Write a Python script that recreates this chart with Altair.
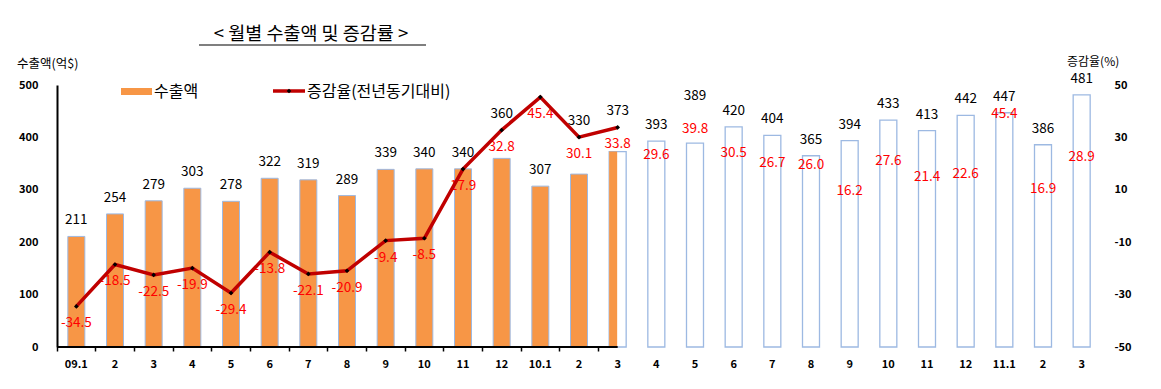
import altair as alt
import pandas as pd

# ---- data ----
months = ["09.1", "2", "3", "4", "5", "6", "7", "8", "9", "10", "11", "12",
          "10.1", "2", "3", "4", "5", "6", "7", "8", "9", "10", "11", "12",
          "11.1", "2", "3"]
exports = [211, 254, 279, 303, 278, 322, 319, 289, 339, 340, 340, 360,
           307, 330, 373, 393, 389, 420, 404, 365, 394, 433, 413, 442,
           447, 386, 481]
growth = [-34.5, -18.5, -22.5, -19.9, -29.4, -13.8, -22.1, -20.9, -9.4, -8.5, 17.9, 32.8,
          45.4, 30.1, 33.8, 29.6, 39.8, 30.5, 26.7, 26.0, 16.2, 27.6, 21.4, 22.6,
          45.4, 16.9, 28.9]
left_ticks = [0, 100, 200, 300, 400, 500]
right_ticks = [-50, -30, -10, 10, 30, 50]
n_filled = 14      # solid orange bars (09.1 .. 10.2)
n_line = 15        # line drawn through 10.3

title_text = "<  월별  수출액  및  증감률  >"
left_title = "수출액(억$)"
right_title = "증감율(%)"
legend_bar = "수출액"
legend_line = "증감율(전년동기대비)"

keys = [f"{i:02d}" for i in range(len(months))]
df = pd.DataFrame({
    "key": keys,
    "idx": list(range(len(months))),
    "exports": exports,
    "growth": growth,
    "glabel": [f"{g:.1f}" for g in growth],
})

W, H = 1044, 262
FONT = "Noto Sans CJK KR"
ORANGE = "#F79646"
EDGE = "#9DB9E2"
LINE = "#C00000"

label_expr = "[" + ",".join(f"'{m}'" for m in months) + "][toNumber(datum.value)]"

x_axis = alt.Axis(
    title=None, labelExpr=label_expr, labelAngle=0, bandPosition=0,
    domain=False, tickSize=4, tickWidth=1.5,
    tickColor={"condition": {"test": f"toNumber(datum.value) < {n_line}", "value": "black"},
               "value": "transparent"},
    labelFont=FONT, labelFontWeight="bold", labelFontSize=11, labelColor="black",
    labelPadding=7, grid=False,
)
x_scale = alt.Scale(domain=keys, paddingInner=0, paddingOuter=0)


def xenc(**kw):
    return alt.X("key:N", scale=x_scale, axis=x_axis, **kw)


def yL(field):
    return alt.Y(
        f"{field}:Q",
        scale=alt.Scale(domain=[0, 500], nice=False, zero=True),
        axis=alt.Axis(
            title=None, values=left_ticks, ticks=False, tickSize=0, grid=False,
            domainColor="black", domainWidth=2, labelFont=FONT, labelFontWeight="bold",
            labelFontSize=11, labelColor="black", labelPadding=19, labelFlush=False,
        ),
    )


yR = alt.Y(
    "growth:Q",
    scale=alt.Scale(domain=[-50, 50], nice=False, zero=False),
    axis=alt.Axis(
        orient="right", title=None, values=right_ticks, ticks=False, tickSize=0,
        grid=False, domain=False, labelFont=FONT, labelFontWeight="bold",
        labelFontSize=11, labelColor="black", labelPadding=13, labelFlush=False,
        labelExpr="toString(datum.value)",
    ),
)

base = alt.Chart(df)

bars_filled = base.transform_filter(f"datum.idx < {n_filled}").mark_bar(
    size=17, color=ORANGE, stroke=EDGE, strokeWidth=1
).encode(x=xenc(), y=yL("exports"))

bars_hollow = base.transform_filter(f"datum.idx >= {n_filled}").mark_bar(
    size=17, fill="white", stroke=EDGE, strokeWidth=1.3
).encode(x=xenc(), y=yL("exports"))

half_bar = base.transform_filter(f"datum.idx == {n_filled}").mark_bar(
    size=8, xOffset=-4.5, color=ORANGE
).encode(x=xenc(), y=yL("exports"))

# value labels: lifted above the growth-rate point when its red label would collide
bar_labels = base.transform_calculate(
    P="(datum.growth + 50) * 5",
).transform_calculate(
    gap=f"(datum.P - datum.exports) * {H} / 500",
).transform_calculate(
    anchor="(datum.gap > 16 && datum.gap < 46) ? datum.P : datum.exports",
).mark_text(
    font=FONT, fontSize=13.5, color="black", baseline="middle", dy=-16
).encode(x=xenc(), y=yL("anchor"), text="exports:Q")

left = alt.layer(bars_filled, bars_hollow, half_bar, bar_labels)

red_labels = base.mark_text(
    font=FONT, fontSize=13.5, color="#FF0000", baseline="middle", dy=17
).encode(x=xenc(), y=yR, text="glabel:N")

line = base.transform_filter(f"datum.idx < {n_line}").mark_line(
    color=LINE, strokeWidth=3.5
).encode(x=xenc(), y=yR)

points = base.transform_filter(f"datum.idx < {n_line}").mark_point(
    shape="diamond", filled=True, color="black", size=22, opacity=1
).encode(x=xenc(), y=yR)

right = alt.layer(red_labels, line, points)

# partial x-axis line (drawn only under the actual-data part)
dom_df = pd.DataFrame({"key": [keys[0]], "e": [keys[n_line - 1]]})
domain_rule = alt.Chart(dom_df).mark_rule(color="black", strokeWidth=2).encode(
    x=xenc(bandPosition=0),
    x2=alt.X2("e:N", bandPosition=0.5),
    y=alt.value(H),
)

one = pd.DataFrame({"t": [0]})

title = alt.Chart(one).mark_text(
    text=title_text, font=FONT, fontSize=18.5, color="black", align="center", baseline="middle"
).encode(x=alt.value(254), y=alt.value(-51))
underline = alt.Chart(one).mark_rule(color="black", strokeWidth=1.2).encode(
    x=alt.value(142), x2=alt.value(369), y=alt.value(-40)
)

ltitle = alt.Chart(one).mark_text(
    text=left_title, font=FONT, fontSize=12.5, color="black", align="left", baseline="middle"
).encode(x=alt.value(-40), y=alt.value(-21))
rtitle = alt.Chart(one).mark_text(
    text=right_title, font=FONT, fontSize=12, color="black", align="left", baseline="middle"
).encode(x=alt.value(1010), y=alt.value(-23))

leg_sw1 = alt.Chart(one).mark_rect(color=ORANGE).encode(
    x=alt.value(64), x2=alt.value(95), y=alt.value(3), y2=alt.value(10)
)
leg_tx1 = alt.Chart(one).mark_text(
    text=legend_bar, font=FONT, fontSize=16, color="black", align="left", baseline="middle"
).encode(x=alt.value(97), y=alt.value(7))
leg_sw2 = alt.Chart(one).mark_rule(color=LINE, strokeWidth=3.5).encode(
    x=alt.value(216), x2=alt.value(248), y=alt.value(6)
)
leg_pt2 = alt.Chart(one).mark_point(shape="diamond", filled=True, color="black", size=22, opacity=1).encode(
    x=alt.value(232), y=alt.value(6)
)
leg_tx2 = alt.Chart(one).mark_text(
    text=legend_line, font=FONT, fontSize=16, color="black", align="left", baseline="middle"
).encode(x=alt.value(250), y=alt.value(7))

chart = alt.layer(
    left, right, domain_rule, title, underline, ltitle, rtitle,
    leg_sw1, leg_tx1, leg_sw2, leg_pt2, leg_tx2
).resolve_scale(y="independent").properties(
    width=W, height=H,
    autosize=alt.AutoSizeParams(type="none"),
    padding={"left": 49, "top": 77, "right": 52, "bottom": 34},
    background="white",
).configure_view(stroke=None)

chart.save("out.html", embed_options={"renderer": "svg", "actions": False})
